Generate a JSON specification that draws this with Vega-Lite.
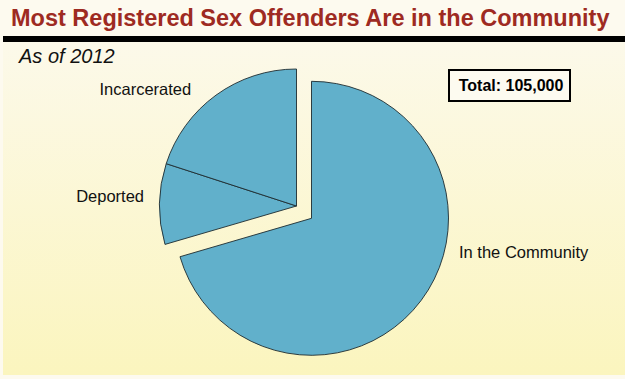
{
  "$schema": "https://vega.github.io/schema/vega-lite/v6.json",
  "width": 622,
  "height": 336,
  "autosize": {"type": "none"},
  "padding": {"left": 3, "top": 39, "right": 0, "bottom": 4},
  "background": "#FDFAEF",
  "title": {
    "text": "Most Registered Sex Offenders Are in the Community",
    "anchor": "start",
    "frame": "group",
    "font": "Liberation Sans",
    "fontSize": 23.5,
    "fontWeight": "bold",
    "color": "#9E2A22",
    "baseline": "alphabetic",
    "offset": 12,
    "dx": 8,
    "dy": 22
  },
  "config": {
    "view": {
      "fill": {
        "gradient": "linear",
        "x1": 0, "y1": 0, "x2": 0, "y2": 1,
        "stops": [
          {"offset": 0, "color": "#FCF9EA"},
          {"offset": 1, "color": "#FBF5BE"}
        ]
      },
      "stroke": "#000000",
      "strokeWidth": 6,
      "strokeDash": [622, 4000]
    },
    "text": {"font": "Liberation Sans"}
  },
  "datasets": {
    "offenders": [
      {"label": "In the Community", "count": 74000},
      {"label": "Deported", "count": 10000},
      {"label": "Incarcerated", "count": 21000}
    ]
  },
  "data": {"name": "offenders"},
  "layer": [
    {
      "mark": {"type": "arc", "radius": 137, "xOffset": -17.5, "yOffset": -1, "fill": "#61B0CB", "stroke": "#1E2B30", "strokeWidth": 0.9},
      "encoding": {
        "theta": {"field": "count", "type": "quantitative", "stack": true, "scale": {"range": [-1.256637, 5.026548]}},
        "order": {"field": "label", "sort": "descending"},
        "opacity": {"condition": {"test": "datum.label !== 'In the Community'", "value": 1}, "value": 0}
      }
    },
    {
      "mark": {"type": "arc", "radius": 137, "xOffset": -2.5, "yOffset": 11.3, "fill": "#61B0CB", "stroke": "#1E2B30", "strokeWidth": 0.9},
      "encoding": {
        "theta": {"field": "count", "type": "quantitative", "stack": true, "scale": {"range": [-1.256637, 5.026548]}},
        "order": {"field": "label", "sort": "descending"},
        "opacity": {"condition": {"test": "datum.label === 'In the Community'", "value": 1}, "value": 0}
      }
    },
    {
      "mark": {"type": "text", "radius": 143.4, "xOffset": -17.5, "yOffset": -1, "dx": -21, "dy": 0, "align": "right", "baseline": "middle", "fontSize": 16.5, "color": "#111111"},
      "encoding": {
        "theta": {"field": "count", "type": "quantitative", "stack": true, "scale": {"range": [-1.256637, 5.026548]}},
        "order": {"field": "label", "sort": "descending"},
        "text": {"field": "label", "type": "nominal"},
        "opacity": {"condition": {"test": "datum.label === 'Incarcerated'", "value": 1}, "value": 0}
      }
    },
    {
      "mark": {"type": "text", "radius": 152.5, "xOffset": -17.5, "yOffset": -1, "dx": 0, "dy": -7, "align": "right", "baseline": "middle", "fontSize": 16.5, "color": "#111111"},
      "encoding": {
        "theta": {"field": "count", "type": "quantitative", "stack": true, "scale": {"range": [-1.256637, 5.026548]}},
        "order": {"field": "label", "sort": "descending"},
        "text": {"field": "label", "type": "nominal"},
        "opacity": {"condition": {"test": "datum.label === 'Deported'", "value": 1}, "value": 0}
      }
    },
    {
      "mark": {"type": "text", "radius": 120, "xOffset": -2.5, "yOffset": 11.3, "dx": 51.5, "dy": -37, "align": "left", "baseline": "middle", "fontSize": 16.5, "color": "#111111"},
      "encoding": {
        "theta": {"field": "count", "type": "quantitative", "stack": true, "scale": {"range": [-1.256637, 5.026548]}},
        "order": {"field": "label", "sort": "descending"},
        "text": {"field": "label", "type": "nominal"},
        "opacity": {"condition": {"test": "datum.label === 'In the Community'", "value": 1}, "value": 0}
      }
    },
    {
      "transform": [
        {"aggregate": [{"op": "sum", "field": "count", "as": "total"}]},
        {"calculate": "'Total: ' + format(datum.total, ',')", "as": "totalLabel"}
      ],
      "layer": [
        {
          "mark": {"type": "rect", "fill": "#FDFBF0", "stroke": "#000000", "strokeWidth": 2},
          "encoding": {
            "x": {"value": 446},
            "x2": {"value": 567},
            "y": {"value": 31},
            "y2": {"value": 62}
          }
        },
        {
          "mark": {"type": "text", "align": "center", "baseline": "middle", "fontSize": 16, "fontWeight": "bold", "color": "#000000"},
          "encoding": {
            "x": {"value": 508},
            "y": {"value": 47},
            "text": {"field": "totalLabel", "type": "nominal"}
          }
        }
      ]
    },
    {
      "data": {"values": [{"note": "As of 2012"}]},
      "mark": {"type": "text", "align": "left", "baseline": "alphabetic", "fontSize": 20, "fontStyle": "italic", "color": "#111111"},
      "encoding": {
        "x": {"value": 16},
        "y": {"value": 24},
        "text": {"field": "note", "type": "nominal"}
      }
    }
  ]
}
